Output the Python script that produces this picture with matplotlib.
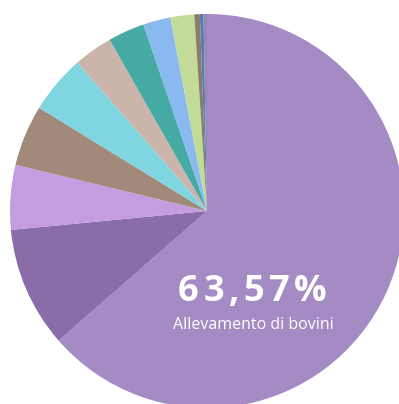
import matplotlib.pyplot as plt
from matplotlib.font_manager import FontProperties
from matplotlib.transforms import offset_copy

# slice shares (%), clockwise from 12 o'clock
labels = ["Allevamento di bovini", "s2", "s3", "s4", "s5", "s6", "s7", "s8", "s9", "s10", "s11", "s12"]
values = [63.57, 9.9, 5.3, 5.0, 4.8, 3.2, 3.0, 2.25, 1.95, 0.45, 0.3, 0.28]
colors = ["#a48bc3", "#8a6ca8", "#c39de0", "#a28a7a", "#7fd6e0", "#cbb5aa",
          "#45aaa3", "#8ab9ef", "#c2dc98", "#8e7a68", "#4f80b2", "#9c86b8"]

fig = plt.figure(figsize=(3.99, 4.04), dpi=100)
ax = fig.add_axes([10 / 399, -4 / 404, 394 / 399, 394 / 404])
ax.pie(values, colors=colors, startangle=90, counterclock=False, radius=1,
       wedgeprops=dict(linewidth=0))
ax.set_xlim(-1, 1)
ax.set_ylim(-1, 1)
ax.set_aspect("equal")
ax.axis("off")

# big percentage, drawn char by char to get the wide letter spacing
pct = f"{values[0]:.2f}%".replace(".", ",")
fp = FontProperties(family="Open Sans", weight="bold", size=26)
renderer = fig.canvas.get_renderer()
widths = [renderer.get_text_width_height_descent(c, fp, ismath=False)[0] for c in pct]
track = 4.5  # px
total = sum(widths) + track * (len(pct) - 1)
x0 = -total / 2
for c, w in zip(pct, widths):
    tr = offset_copy(ax.transData, fig=fig, x=x0 * 72 / fig.dpi, y=0, units="points")
    ax.text(0.23, -0.457, c, color="white", fontproperties=fp,
            ha="left", va="baseline", transform=tr)
    x0 += w + track

ax.text(0.236, -0.599, labels[0], color="white", fontsize=11.5,
        family="Open Sans", ha="center", va="baseline")

fig.savefig("out.png", dpi=100)
